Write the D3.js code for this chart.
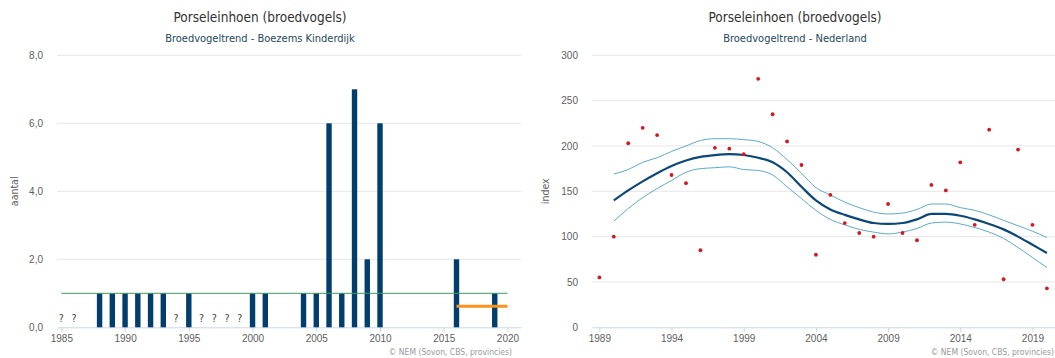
<!DOCTYPE html>
<html>
<head>
<meta charset="utf-8">
<script src="https://cdn.jsdelivr.net/npm/d3@7"></script>
<style>
  body { margin: 0; background: #fff; }
  svg { display: block; font-family: "DejaVu Sans Condensed", "DejaVu Sans", sans-serif; }
</style>
</head>
<body>
<svg id="chart" width="1055" height="358"></svg>
<script>
// Left chart: counts per year (Boezems Kinderdijk)
const barYears = [1988, 1989, 1990, 1991, 1992, 1993, 1995, 2000, 2001, 2004, 2005, 2006, 2007, 2008, 2009, 2010, 2016, 2019];
const barValues = [1, 1, 1, 1, 1, 1, 1, 1, 1, 1, 1, 6, 1, 7, 2, 6, 2, 1];
const unknownYears = [1985, 1986, 1994, 1996, 1997, 1998, 1999];
const refLine = { from: 1985, to: 2020, value: 1 };
const recentLine = { from: 2016, to: 2020, value: 0.62 };
const leftYTicks = [0, 2, 4, 6, 8];
const leftXTicks = [1985, 1990, 1995, 2000, 2005, 2010, 2015, 2020];

// Right chart: national index
const pointYears = d3.range(1989, 2021);
const pointValues = [55, 100, 203, 220, 212, 168, 159, 85, 198, 197, 191, 274, 235, 205, 179, 80,
  146, 115, 104, 100, 136, 104, 96, 157, 151, 182, 113, 218, 53, 196, 113, 43];
const trendYears = d3.range(1990, 2021);
const trendValues = [140, 151, 161, 170, 178, 184, 188, 190, 191, 190, 187, 182, 171, 155, 140, 130,
  124, 119, 115, 114, 115, 119, 125, 125, 123, 119, 114, 108, 100, 91, 82];
const upperValues = [169, 174, 182, 187, 194, 200, 206, 208, 208, 207, 205, 198, 185, 170, 154, 146,
  138, 132, 127, 125, 126, 130, 136, 136, 132, 129, 124, 118, 112, 106, 99];
const lowerValues = [117, 131, 143, 153, 162, 171, 175, 176, 177, 174, 173, 168, 155, 142, 129, 119,
  113, 108, 105, 103, 105, 109, 115, 116, 114, 110, 105, 98, 88, 77, 66];
const rightYTicks = [0, 50, 100, 150, 200, 250, 300];
const rightXTicks = [1989, 1994, 1999, 2004, 2009, 2014, 2019];

const svg = d3.select("#chart");
const nl = d3.formatLocale({ decimal: ",", thousands: ".", grouping: [3], currency: ["€", ""] });
const fmt1 = nl.format(".1f");

const plotTop = 55.3, plotBottom = 327.3;
const gridColor = "#e6e6e6", axisColor = "#ccd6eb", labelColor = "#606060";

function titles(cx, sub) {
    svg.append("text").attr("x", cx).attr("y", 22).attr("text-anchor", "middle")
        .attr("font-size", 13.5).attr("fill", "#333").text("Porseleinhoen (broedvogels)");
    svg.append("text").attr("x", cx).attr("y", 42).attr("text-anchor", "middle")
        .attr("font-size", 11).attr("fill", "#24495c").text(sub);
}

function frame(x, y, xTicks, yTicks, yFmt, yTitle, yTitleX, credX) {
    const [x0, x1] = x.range();
    // gridlines
    svg.append("g").selectAll("line").data(yTicks.filter(d => d > 0)).join("line")
        .attr("x1", x0).attr("x2", x1)
        .attr("y1", d => y(d)).attr("y2", d => y(d))
        .attr("stroke", gridColor).attr("stroke-width", 1);

    const ya = svg.append("g").attr("transform", `translate(${x0},0)`)
        .call(d3.axisLeft(y).tickValues(yTicks).tickFormat(yFmt).tickSize(0).tickPadding(14));
    ya.select(".domain").remove();
    ya.selectAll("text").attr("font-size", 10).attr("fill", labelColor).attr("font-family", null);

    const xa = svg.append("g").attr("transform", `translate(0,${plotBottom})`)
        .call(d3.axisBottom(x).tickValues(xTicks).tickFormat(d3.format("d")).tickSize(5).tickPadding(3).tickSizeOuter(0));
    xa.select(".domain").attr("stroke", axisColor);
    xa.selectAll(".tick line").attr("stroke", axisColor);
    xa.selectAll("text").attr("font-size", 10).attr("fill", labelColor).attr("font-family", null);

    svg.append("text").attr("transform", `translate(${yTitleX},${(plotTop + plotBottom) / 2}) rotate(-90)`)
        .attr("text-anchor", "middle").attr("font-size", 10.5).attr("fill", labelColor).text(yTitle);

    svg.append("text").attr("x", credX).attr("y", 355).attr("text-anchor", "end")
        .attr("font-size", 8.5).attr("fill", "#999").text("© NEM (Sovon, CBS, provincies)");
}

// ---------- left chart ----------
const xL = d3.scaleLinear().domain([1984.66, 2021.06]).range([57, 521]);
const yL = d3.scaleLinear().domain([0, 8]).range([plotBottom, plotTop]);

titles(260, "Broedvogeltrend - Boezems Kinderdijk");
frame(xL, yL, leftXTicks, leftYTicks, d => fmt1(d), "aantal", 18, 512);

const barW = 5.4;
svg.append("g").selectAll("rect").data(barYears.map((yr, i) => [yr, barValues[i]])).join("rect")
    .attr("x", d => xL(d[0]) - barW / 2)
    .attr("y", d => yL(d[1]))
    .attr("width", barW)
    .attr("height", d => yL(0) - yL(d[1]))
    .attr("fill", "#023e6d");

svg.append("g").selectAll("text").data(unknownYears).join("text")
    .attr("x", d => xL(d)).attr("y", yL(0) - 5)
    .attr("text-anchor", "middle").attr("font-size", 10.5).attr("fill", "#444").text("?");

svg.append("line")
    .attr("x1", xL(refLine.from)).attr("x2", xL(refLine.to))
    .attr("y1", yL(refLine.value)).attr("y2", yL(refLine.value))
    .attr("stroke", "#3f9a5c").attr("stroke-width", 1);

svg.append("line")
    .attr("x1", xL(recentLine.from)).attr("x2", xL(recentLine.to))
    .attr("y1", yL(recentLine.value)).attr("y2", yL(recentLine.value))
    .attr("stroke", "#f7931e").attr("stroke-width", 3);

// ---------- right chart ----------
const xR = d3.scaleLinear().domain([1988.49, 2020.56]).range([592, 1055]);
const yR = d3.scaleLinear().domain([0, 300]).range([plotBottom, plotTop]);

titles(795, "Broedvogeltrend - Nederland");
frame(xR, yR, rightXTicks, rightYTicks, d3.format("d"), "index", 549, 1054);

const line = d3.line().x((d, i) => xR(trendYears[i])).y(d => yR(d)).curve(d3.curveMonotoneX);

svg.append("path").datum(upperValues).attr("d", line)
    .attr("fill", "none").attr("stroke", "#5aabcc").attr("stroke-width", 1);
svg.append("path").datum(lowerValues).attr("d", line)
    .attr("fill", "none").attr("stroke", "#5aabcc").attr("stroke-width", 1);
svg.append("path").datum(trendValues).attr("d", line)
    .attr("fill", "none").attr("stroke", "#0b4878").attr("stroke-width", 2.2);

svg.append("g").selectAll("circle").data(pointValues).join("circle")
    .attr("cx", (d, i) => xR(pointYears[i])).attr("cy", d => yR(d))
    .attr("r", 1.9).attr("fill", "#d7161e");
</script>
</body>
</html>
